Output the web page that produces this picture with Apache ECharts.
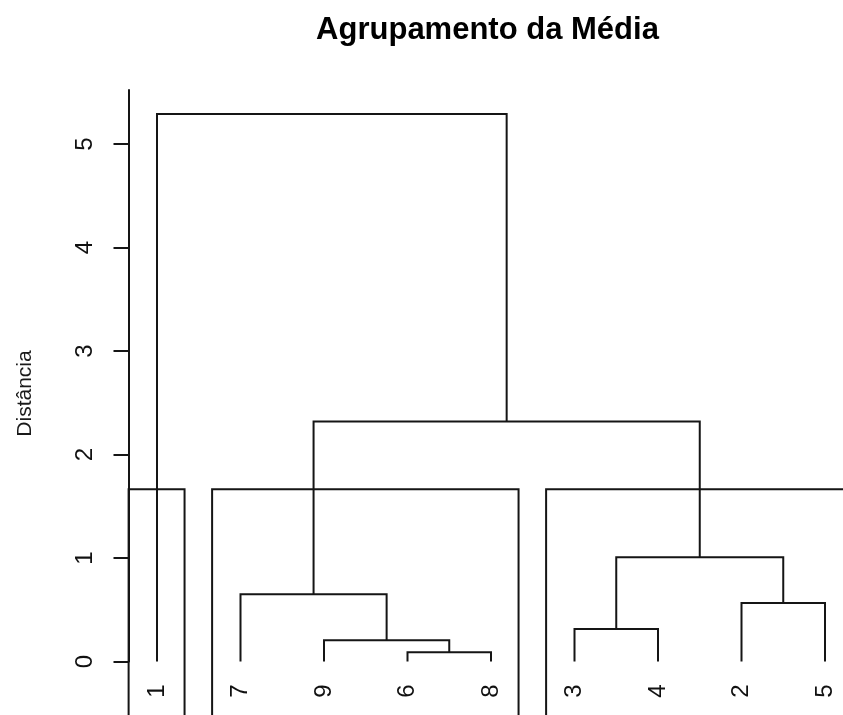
<!DOCTYPE html>
<html>
<head>
<meta charset="utf-8">
<script src="https://cdn.jsdelivr.net/npm/echarts@6/dist/echarts.min.js"></script>
<style>html,body{margin:0;padding:0;background:#fff}#c{width:843px;height:715px}</style>
</head>
<body>
<div id="c"></div>
<script>
// ---- data ----
const leafOrder = [1, 7, 9, 6, 8, 3, 4, 2, 5];          // leaves left to right
const mergeLeft  = [-6, -9, -3, -2, -7, 3, 5, -1];      // R hclust style (neg = observation)
const mergeRight = [-8,  1, -4, -5,  2, 4, 6,  7];
const mergeHeight = [0.09, 0.205, 0.314, 0.565, 0.65, 1.007, 2.32, 5.29];
const yTicks = [0, 1, 2, 3, 4, 5];
const clusterCount = 3;
const titleText = 'Agrupamento da Média';
const yLabelText = 'Distância';

// ---- build tree segments ----
const FONT = '"Liberation Sans", Arial, sans-serif';
const posOf = {};
leafOrder.forEach((o, i) => posOf[o] = i + 1);
const nodeX = [], nodeH = [];
function childInfo(c) {
  if (c < 0) return { x: posOf[-c], h: 0 };
  return { x: nodeX[c - 1], h: nodeH[c - 1] };
}
const links = [];
for (let i = 0; i < mergeHeight.length; i++) {
  const a = childInfo(mergeLeft[i]), b = childInfo(mergeRight[i]);
  const h = mergeHeight[i];
  nodeX.push((a.x + b.x) / 2); nodeH.push(h);
  links.push([a.x, a.h, b.x, b.h, h]);
}
// cut into k clusters (rect.hclust)
const n = leafOrder.length;
const cutH = (mergeHeight[n - clusterCount - 1] + mergeHeight[n - clusterCount]) / 2;
function leavesOf(c) {
  if (c < 0) return [posOf[-c]];
  return leavesOf(mergeLeft[c - 1]).concat(leavesOf(mergeRight[c - 1]));
}
const groups = [];
function collect(c) {
  if (c > 0 && mergeHeight[c - 1] > cutH) { collect(mergeLeft[c - 1]); collect(mergeRight[c - 1]); }
  else groups.push(leavesOf(c));
}
collect(mergeHeight.length);
const boxes = groups.map(g => [Math.min(...g) - 0.34, Math.max(...g) + 0.33, cutH]);

const chart = echarts.init(document.getElementById('c'), null, { renderer: 'canvas' });
const LINE = '#151515';
const gridLeft = 128.5, leaf1X = 157, leafStep = 83.5;
const xMin = 1 - (leaf1X - gridLeft) / leafStep;
const xMax = 1 + (843 - leaf1X) / leafStep;
const yMax = (661.5 - 90) / 103.5;

chart.setOption({
  animation: false,
  backgroundColor: '#fff',
  grid: { left: gridLeft, right: 0, top: 90, bottom: 53.5 },
  xAxis: {
    type: 'value', min: xMin, max: xMax,
    axisLine: { show: false }, axisTick: { show: false }, splitLine: { show: false },
    axisLabel: {
      customValues: leafOrder.map((o, i) => i + 1),
      formatter: v => String(leafOrder[Math.round(v) - 1]),
      rotate: 90, margin: 23, fontSize: 24, color: '#111', fontFamily: FONT
    }
  },
  yAxis: {
    type: 'value', min: 0, max: yMax,
    axisLine: { show: true, lineStyle: { color: LINE, width: 2 } },
    axisTick: { show: true, length: 15, customValues: yTicks, lineStyle: { color: LINE, width: 2 } },
    axisLabel: { customValues: yTicks, rotate: 90, margin: 31, fontSize: 24, color: '#111', fontFamily: FONT },
    splitLine: { show: false }
  },
  graphic: [
    { type: 'text', x: 0, y: 0, style: { text: titleText, x: 487.5, y: 30, align: 'center', verticalAlign: 'middle', font: 'bold 31px ' + FONT, fill: '#000' } },
    { type: 'text', x: 25, y: 393.5, rotation: Math.PI / 2, style: { text: yLabelText, x: 0, y: 0, align: 'center', verticalAlign: 'middle', font: '21px ' + FONT, fill: '#1a1a1a' } }
  ],
  series: [
    {
      type: 'custom', clip: false, data: links,
      renderItem: (params, api) => {
        const p1 = api.coord([api.value(0), api.value(1)]);
        const p2 = api.coord([api.value(0), api.value(4)]);
        const p3 = api.coord([api.value(2), api.value(4)]);
        const p4 = api.coord([api.value(2), api.value(3)]);
        return { type: 'polyline', shape: { points: [p1, p2, p3, p4] }, style: { stroke: LINE, lineWidth: 2, fill: null } };
      }
    },
    {
      type: 'custom', clip: false, data: boxes,
      renderItem: (params, api) => {
        const bottom = -1;
        const p1 = api.coord([api.value(0), bottom]);
        const p2 = api.coord([api.value(0), api.value(2)]);
        const p3 = api.coord([api.value(1), api.value(2)]);
        const p4 = api.coord([api.value(1), bottom]);
        return { type: 'polyline', shape: { points: [p1, p2, p3, p4] }, style: { stroke: LINE, lineWidth: 2, fill: null } };
      }
    }
  ]
});
</script>
</body>
</html>
